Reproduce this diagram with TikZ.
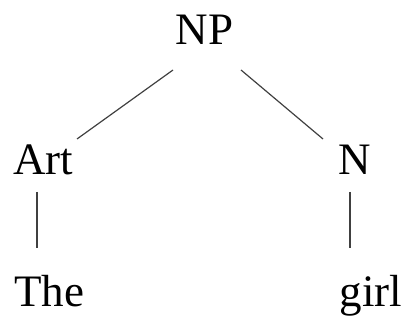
\documentclass[tikz,border=0pt]{standalone}
\usepackage{fontspec}
\setmainfont{Liberation Serif}
\begin{document}
\begin{tikzpicture}[x=1pt,y=1pt,
    cat/.style={anchor=base,inner sep=0pt,font=\fontsize{45}{54}\selectfont},
    branch/.style={line width=1.2pt,black!75}]
        \useasboundingbox (0,0) rectangle (406,320);
        %% nodes
        \node[cat] (np) at (204.5,275) {NP};
        \node[cat] (art) at (43,145) {Art};
        \node[cat] (n) at (355,145) {N};
        \node[cat] (the) at (49,13) {The};
        \node[cat] (girl) at (371,13) {girl};
        %% branches
        \draw[branch] ([shift={(-31.5,-25)}]np.base) -- ([shift={(34,36)}]art.base);
        \draw[branch] ([shift={(36.5,-25)}]np.base) -- ([shift={(-32,36)}]n.base);
        \draw[branch] ([shift={(-6,-17)}]art.base) -- ([shift={(-12,59)}]the.base);
        \draw[branch] ([shift={(-5,-17)}]n.base) -- ([shift={(-21,59)}]girl.base);
    \end{tikzpicture}
\end{document}
